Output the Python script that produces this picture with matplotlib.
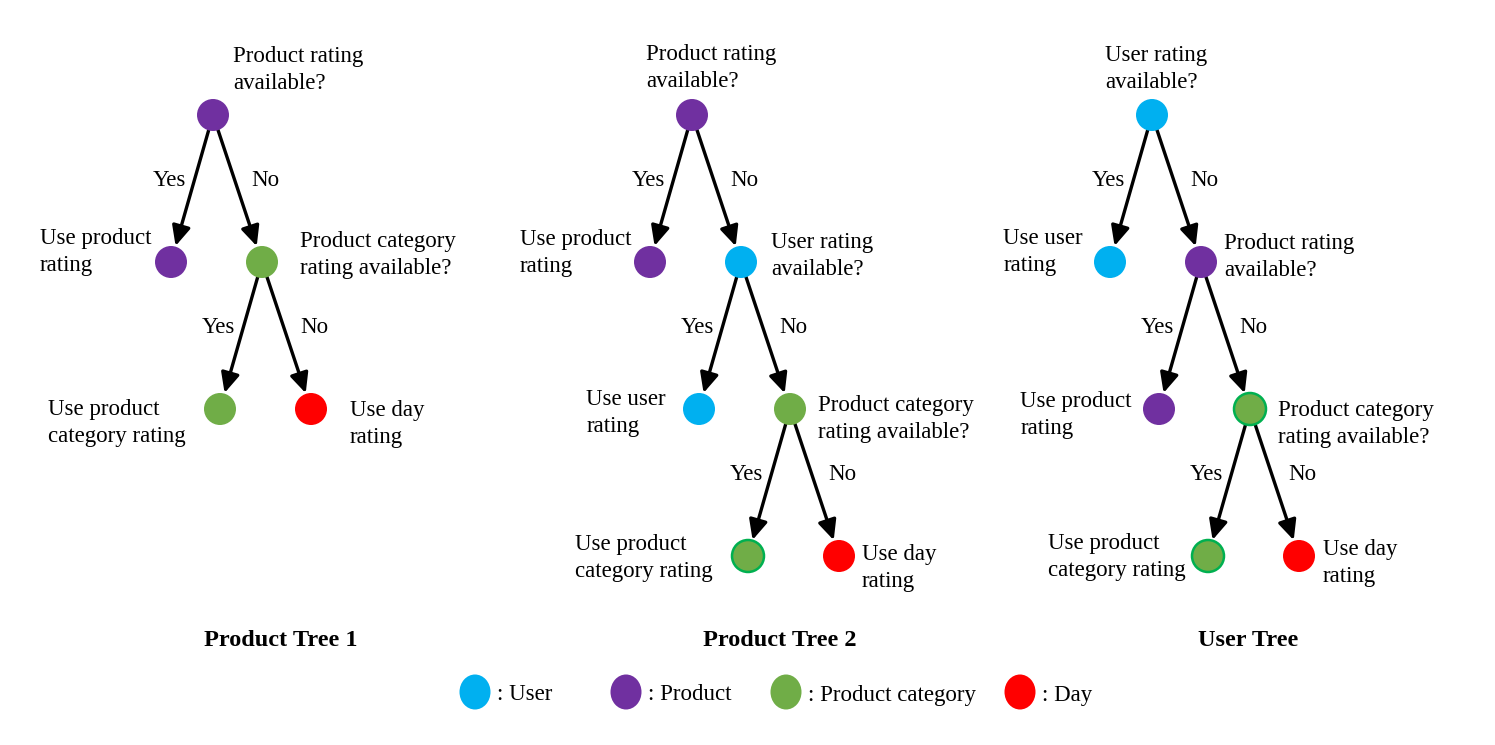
import matplotlib.pyplot as plt
from matplotlib.patches import Circle, Ellipse

plt.rcParams["font.family"] = ["Liberation Serif", "DejaVu Serif"]

# node kinds -> colours
kinds = ["User", "Product", "Product category", "Day"]
kind_colors = ["#00B0F0", "#7030A0", "#70AD47", "#FF0000"]

# trees: (kind, text, parent index, branch)
tree_titles = ["Product Tree 1", "Product Tree 2", "User Tree"]

tree1 = [
    ("Product", "Product rating\navailable?", None, None),
    ("Product", "Use product\nrating", 0, "Yes"),
    ("Product category", "Product category\nrating available?", 0, "No"),
    ("Product category", "Use product\ncategory rating", 2, "Yes"),
    ("Day", "Use day\nrating", 2, "No"),
]
tree2 = [
    ("Product", "Product rating\navailable?", None, None),
    ("Product", "Use product\nrating", 0, "Yes"),
    ("User", "User rating\navailable?", 0, "No"),
    ("User", "Use user\nrating", 2, "Yes"),
    ("Product category", "Product category\nrating available?", 2, "No"),
    ("Product category", "Use product\ncategory rating", 4, "Yes"),
    ("Day", "Use day\nrating", 4, "No"),
]
tree3 = [
    ("User", "User rating\navailable?", None, None),
    ("User", "Use user\nrating", 0, "Yes"),
    ("Product", "Product rating\navailable?", 0, "No"),
    ("Product", "Use product\nrating", 2, "Yes"),
    ("Product category", "Product category\nrating available?", 2, "No"),
    ("Product category", "Use product\ncategory rating", 4, "Yes"),
    ("Day", "Use day\nrating", 4, "No"),
]
trees = [tree1, tree2, tree3]

# ---- layout (pixel units) ----
root_x = [213, 692, 1152]
root_y = 115
title_x = [281, 780, 1248]
step_x = {"Yes": -42, "No": 49}
step_y = 147
node_r = 16
# offsets of each node's text from the node centre
label_off = [
    [(20, -45), (-20, -10), (38, -7), (-34, 14), (39, 15)],
    [(-46, -47), (-19, -9), (30, -6), (-33, 4), (28, 10), (-35, 2), (23, 12)],
    [(-47, -46), (-27, -10), (23, -5), (-27, 6), (28, 15), (-22, 1), (24, 7)],
]
outlined = [[], [5], [4, 5]]

fig = plt.figure(figsize=(14.95, 7.45), dpi=100)
ax = fig.add_axes([0, 0, 1, 1])
ax.set_xlim(0, 1495)
ax.set_ylim(745, 0)
ax.axis("off")

fs = 16.5
for t, nodes in enumerate(trees):
    pos = {}
    for i, (kind, text, parent, branch) in enumerate(nodes):
        if parent is None:
            pos[i] = (root_x[t], root_y)
        else:
            px, py = pos[parent]
            pos[i] = (px + step_x[branch], py + step_y)

    for i, (kind, text, parent, branch) in enumerate(nodes):
        x, y = pos[i]
        if parent is not None:
            px, py = pos[parent]
            ax.annotate("", xy=(x, y), xytext=(px, py),
                        arrowprops=dict(arrowstyle="-|>,head_length=0.6,head_width=0.28",
                                        mutation_scale=20, lw=2.4, color="black",
                                        shrinkA=0, shrinkB=node_r * 0.72 + 0.5),
                        zorder=1)
            mx, my = (x + px) / 2, (y + py) / 2
            bx = -23 if branch == "Yes" else 28
            ax.text(mx + bx, my - 8, branch, fontsize=fs, ha="center", va="center")

        c = kind_colors[kinds.index(kind)]
        ec = "#00B050" if i in outlined[t] else c
        ax.add_patch(Circle((x, y), node_r, facecolor=c, edgecolor=ec,
                            lw=1.8 if i in outlined[t] else 0, zorder=3))

        dx, dy = label_off[t][i]
        ha = "right" if branch == "Yes" else "left"
        ax.text(x + dx, y + dy, text, fontsize=fs, ha=ha, va="center",
                multialignment="left", linespacing=1.38)

    ax.text(title_x[t], 640, tree_titles[t], fontsize=17.5, fontweight="bold",
            ha="center", va="center")

# legend
legend_x = [475, 626, 786, 1020]
for k, c, lx in zip(kinds, kind_colors, legend_x):
    ax.add_patch(Ellipse((lx, 692), 31, 35, facecolor=c, edgecolor="none"))
    ax.text(lx + 22, 695, ": " + k, fontsize=fs, ha="left", va="center")

plt.savefig("out.png", dpi=100)
plt.close()
